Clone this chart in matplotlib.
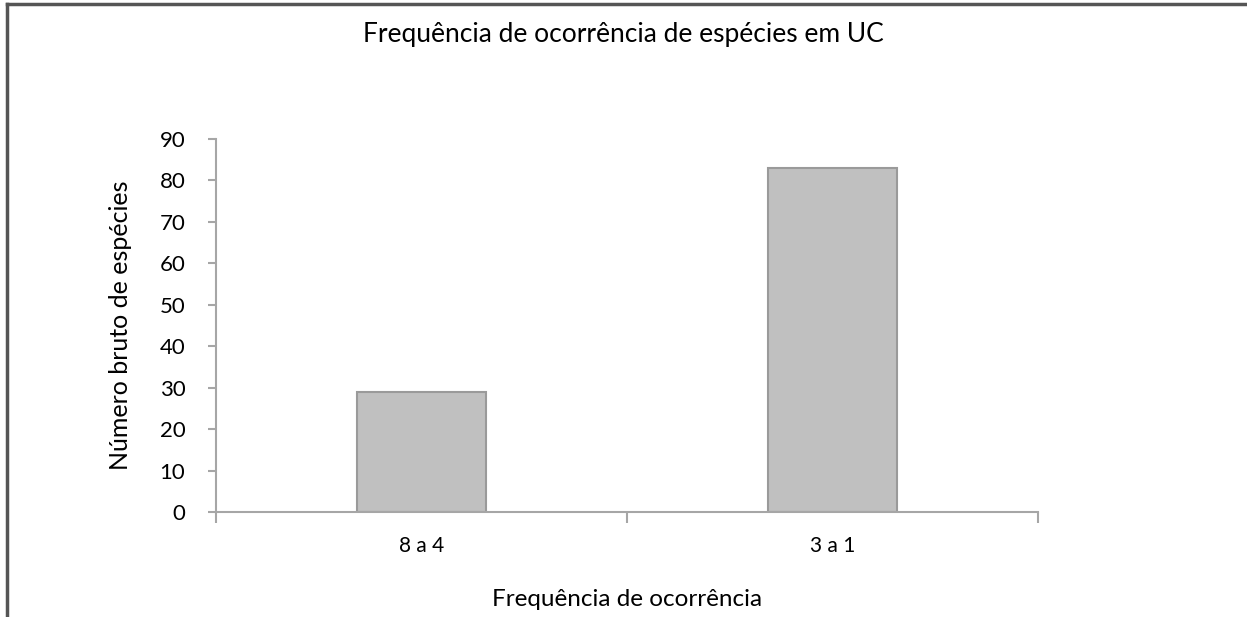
import matplotlib.pyplot as plt
from matplotlib.lines import Line2D

plt.rcParams.update({'font.family': ['Lato', 'DejaVu Sans'], 'font.size': 15})

# -------------------------------------------------------------------------------

CATEGORIES = ['8 a 4', '3 a 1']
N_SPECIES = [29, 83]
YTICKS = list(range(0, 100, 10))

AXIS_GREY = '#a6a6a6'
BAR_FILL = '#c0c0c0'
BAR_EDGE = '#9a9a9a'

# -------------------------------------------------------------------------------

fig = plt.figure(figsize=(12.47, 6.17), dpi=100)
ax = fig.add_axes([0.1732, 0.1702, 0.6592, 0.6045])

x = list(range(len(CATEGORIES)))
ax.bar(x, N_SPECIES, width=0.314, color=BAR_FILL, edgecolor=BAR_EDGE, linewidth=1.5, zorder=2)

ax.set_xlim(-0.5, len(CATEGORIES) - 0.5)
ax.set_ylim(0, 90)
ax.set_yticks(YTICKS)

# category labels centred, tick marks on the category boundaries
ax.set_xticks(x)
ax.set_xticklabels(CATEGORIES, fontsize=15)
ax.tick_params(axis='x', which='major', length=0, pad=17)
ax.set_xticks([i - 0.5 for i in range(len(CATEGORIES) + 1)], minor=True)
ax.tick_params(axis='x', which='minor', length=8, width=1.5, color=AXIS_GREY)
ax.tick_params(axis='y', length=6, width=1.5, color=AXIS_GREY, pad=16, labelsize=16)

for side in ['top', 'right']:
    ax.spines[side].set_visible(False)
for side in ['left', 'bottom']:
    ax.spines[side].set_color(AXIS_GREY)
    ax.spines[side].set_linewidth(1.5)

ax.set_ylabel('Número bruto de espécies', fontsize=18, labelpad=20)
ax.set_xlabel('Frequência de ocorrência', fontsize=17.5, labelpad=24)
fig.suptitle('Frequência de ocorrência de espécies em UC', fontsize=19, y=0.965)

# outer frame (top and left edges only)
fig.add_artist(Line2D([0.0056, 0.0056], [0, 0.9935], transform=fig.transFigure, color='#555555', lw=2.5))
fig.add_artist(Line2D([0.0056, 1], [0.9935, 0.9935], transform=fig.transFigure, color='#555555', lw=2.5))

plt.savefig('out.png', dpi=100)
